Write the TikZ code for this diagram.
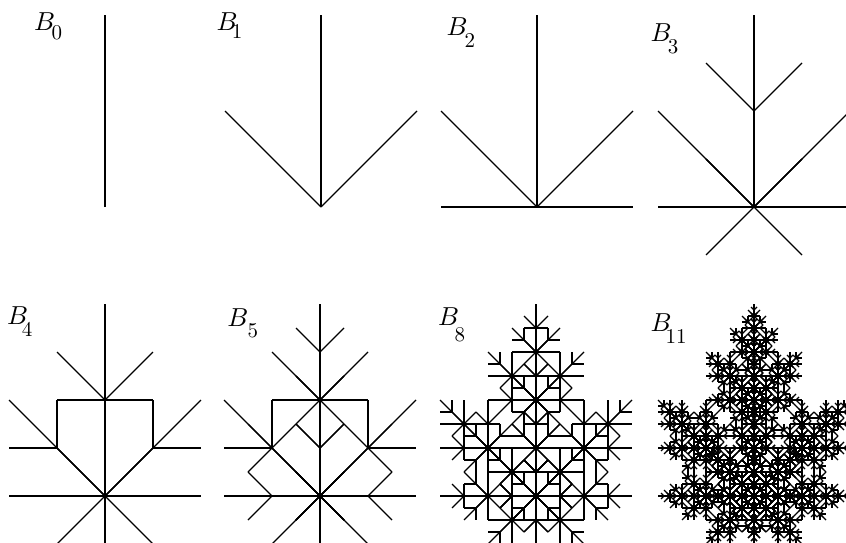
\documentclass[tikz,border=0pt]{standalone}
\font\bletter=cmmi10 at 26pt
\font\bindex=cmr10 at 21pt
\tikzset{
  blabel/.style={anchor=base west, inner sep=0pt},
}
% name of a system: kern before the index, drop of the index, index
\newcommand{\bname}[3]{{\bletter B}\kern#1pt\lower#2pt\hbox{\bindex #3}}
% evaluates all five numbers first
\newcommand{\branchstep}[5]{%
  \edef\nextstep{\noexpand\branchsys{\the\numexpr#1\relax}{\the\numexpr#2\relax}{\the\numexpr#3\relax}{\the\numexpr#4\relax}{\the\numexpr#5\relax}}%
  \nextstep}
% branch system: level, start of trunk (x,y), trunk vector (x,y), all whole numbers
\newcommand{\branchsys}[5]{%
  \ifcase#1\relax
    \draw (#2,#3) -- ++(#4,#5);
  \or
    \branchstep{0}{#2}{#3}{#4}{#5}%
    \branchstep{0}{#2}{#3}{(#4-(#5))/2}{(#5+(#4))/2}%
    \branchstep{0}{#2}{#3}{(#4+(#5))/2}{(#5-(#4))/2}%
  \else
    \branchstep{#1-1}{#2}{#3}{(#4-(#5))/2}{(#5+(#4))/2}%
    \branchstep{#1-1}{#2}{#3}{(#4+(#5))/2}{(#5-(#4))/2}%
    \branchstep{#1-2}{#2+(#4)/2}{#3+(#5)/2}{(#4)/2}{(#5)/2}%
  \fi}
\begin{document}
\begin{tikzpicture}[x=1pt, y=1pt, line width=1.15pt]
  \clip (0,-543) rectangle (846,0);
  % top row
  \foreach \lev/\xpos in {0/105, 1/321, 2/537, 3/754}
  {
    \begingroup\tikzset{shift={(\xpos,-207)}}\branchsys{\lev}{0}{0}{0}{192}\endgroup
  }
  % bottom row
  \foreach \lev/\xpos in {4/105, 5/320, 8/536, 11/754}
  {
    \begingroup\tikzset{shift={(\xpos,-496)}}\branchsys{\lev}{0}{0}{0}{192}\endgroup
  }
  % labels
  \node[blabel] (b0) at (33.5,-30.7) {\bname{-2.2}{9.3}{0}};
  \node[blabel] (b1) at (216,-30.7) {\bname{-4.4}{8.3}{1}};
  \node[blabel] (b2) at (446,-36) {\bname{-1.7}{11.3}{2}};
  \node[blabel] (b3) at (650,-41.7) {\bname{-2.4}{11.6}{3}};
  \node[blabel] (b4) at (6.5,-324.3) {\bname{-5}{11.7}{4}};
  \node[blabel] (b5) at (226.7,-326.7) {\bname{0.6}{11}{5}};
  \node[blabel] (b8) at (437.5,-325.7) {\bname{-3.2}{15.7}{8}};
  \node[blabel] (b11) at (650,-331.7) {\bname{-4.7}{11.7}{11}};
\end{tikzpicture}
\end{document}
